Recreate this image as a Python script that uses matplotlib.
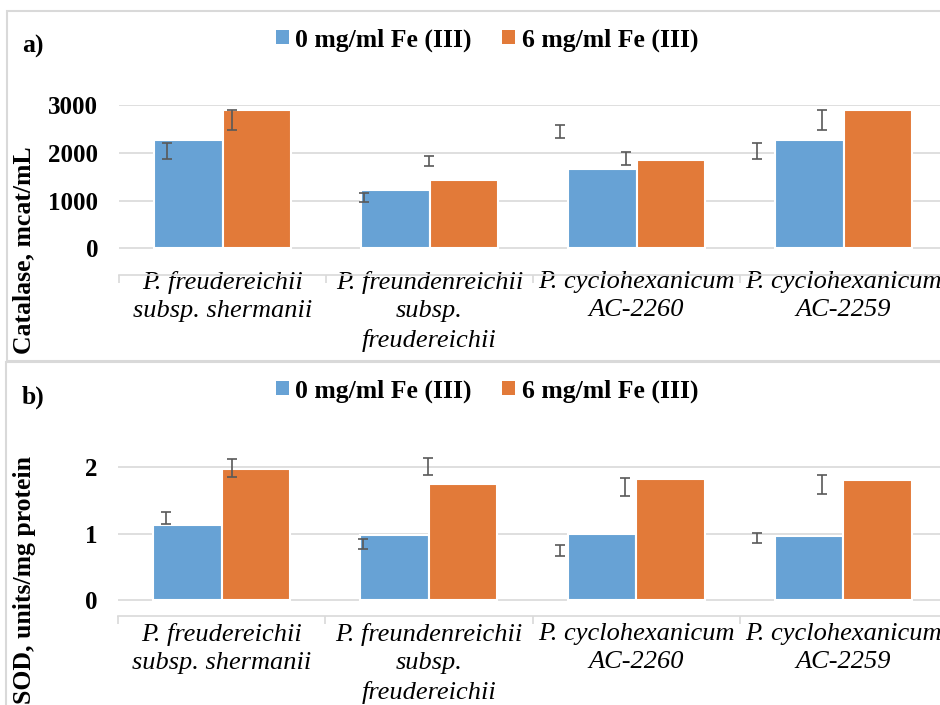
import numpy as np
import matplotlib
matplotlib.use("Agg")
import matplotlib.pyplot as plt
from matplotlib.patches import Patch, Rectangle

# --- datos ---
categorias = [
    "P. freudereichii\nsubsp. shermanii",
    "P. freundenreichii\nsubsp.\nfreudereichii",
    "P. cyclohexanicum\nAC-2260",
    "P. cyclohexanicum\nAC-2259",
]
series = ["0 mg/ml Fe (III)", "6 mg/ml Fe (III)"]

catalasa_0 = [2265, 1210, 1660, 2265]
catalasa_6 = [2895, 1430, 1845, 2895]
catalasa_err0_centro = [2031, 1056, 2451, 2031]
catalasa_err0 = [163, 97, 132, 163]
catalasa_err6_centro = [2687, 1819, 1875, 2687]
catalasa_err6 = [211, 104, 140, 208]

sod_0 = [1.135, 0.985, 0.99, 0.965]
sod_6 = [1.975, 1.74, 1.825, 1.80]
sod_err0_centro = [1.235, 0.842, 0.745, 0.935]
sod_err0 = [0.085, 0.07, 0.08, 0.075]
sod_err6_centro = [1.99, 2.015, 1.70, 1.74]
sod_err6 = [0.14, 0.13, 0.14, 0.14]

AZUL = '#67a2d5'
NARANJA = '#e27a39'
GRIS = '#d9d9d9'
W, H = 940, 705

plt.rcParams['font.family'] = 'serif'
plt.rcParams['font.serif'] = ['Liberation Serif', 'DejaVu Serif']

fig = plt.figure(figsize=(W / 100, H / 100), dpi=100)


def caja(x0, y0, x1, y1):
    # rectangulo en pixeles (origen arriba-izquierda) -> fraccion de figura
    return [x0 / W, 1 - y1 / H, (x1 - x0) / W, (y1 - y0) / H]


def panel(rect, v0, v6, c0, e0, c6, e6, ylim, yticks, ylabel, ylab_xy, letra, letra_y, leg_y, xpad):
    ax = fig.add_axes(caja(*rect))
    x = np.arange(len(categorias))
    ancho = 0.33
    ax.bar(x - ancho / 2, v0, ancho, color=AZUL, edgecolor='white', lw=1.5, zorder=2)
    ax.bar(x + ancho / 2, v6, ancho, color=NARANJA, edgecolor='white', lw=1.5, zorder=2)

    # barras de error (desplazadas como en la figura original)
    xe = x * 0.95 - 0.11
    ax.errorbar(xe - 0.158, c0, yerr=e0, fmt='none', ecolor='#595959',
                elinewidth=1.2, capsize=3.6, capthick=1.2, zorder=3)
    ax.errorbar(xe + 0.158, c6, yerr=e6, fmt='none', ecolor='#595959',
                elinewidth=1.2, capsize=3.6, capthick=1.2, zorder=3)

    ax.set_xlim(-0.5, len(categorias) - 0.5)
    ax.set_ylim(*ylim)
    ax.set_yticks(yticks)
    ax.yaxis.grid(True, color=GRIS, lw=1.2)
    ax.set_axisbelow(True)
    for s in ['top', 'left', 'right']:
        ax.spines[s].set_visible(False)
    ax.spines['bottom'].set_color(GRIS)
    ax.spines['bottom'].set_linewidth(1.2)

    ax.tick_params(axis='y', length=0, pad=15, labelsize=18)
    for t in ax.get_yticklabels():
        t.set_fontweight('bold')
    ax.set_xticks(x)
    ax.set_xticklabels(categorias, fontstyle='italic', fontsize=19, linespacing=1.38)
    ax.tick_params(axis='x', which='major', length=0, pad=xpad)
    ax.set_xticks(np.arange(len(categorias) + 1) - 0.5, minor=True)
    ax.tick_params(axis='x', which='minor', length=5.5, width=1.2, color=GRIS, direction='out')

    fig.text(ylab_xy[0] / W, 1 - ylab_xy[1] / H, ylabel, rotation=90, ha='center',
             va='center', fontsize=18.5, fontweight='bold')
    fig.text(22 / W, 1 - letra_y / H, letra, fontsize=18.5, fontweight='bold', va='baseline')

    handles = [Patch(facecolor=AZUL), Patch(facecolor=NARANJA)]
    ax.legend(handles, series, loc='center', bbox_to_anchor=(487 / W, 1 - leg_y / H),
              bbox_transform=fig.transFigure, ncol=2, frameon=False,
              prop={'size': 18.5, 'weight': 'bold'}, handlelength=0.5, handleheight=0.5,
              handletextpad=0.25, columnspacing=1.2, borderpad=0)
    return ax


# marcos de los paneles
fig.add_artist(Rectangle((7 / W, 1 - 361 / H), 1.1, 350 / H, transform=fig.transFigure,
                         fill=False, ec=GRIS, lw=1.5))
fig.add_artist(Rectangle((6 / W, 1 - 730 / H), 1.1, 368 / H, transform=fig.transFigure,
                         fill=False, ec=GRIS, lw=1.5))

panel((119, 105, 947, 275), catalasa_0, catalasa_6,
      catalasa_err0_centro, catalasa_err0, catalasa_err6_centro, catalasa_err6,
      (-560, 3000), [0, 1000, 2000, 3000], "Catalase, mcat/mL", (24, 250), "a)", 53, 40, -3)

panel((118, 434, 947, 616), sod_0, sod_6,
      sod_err0_centro, sod_err0, sod_err6_centro, sod_err6,
      (-0.24, 2.5), [0, 1, 2], "SOD, units/mg protein", (25, 580), "b)", 404, 391, 5)

fig.savefig("out.png", dpi=100)
